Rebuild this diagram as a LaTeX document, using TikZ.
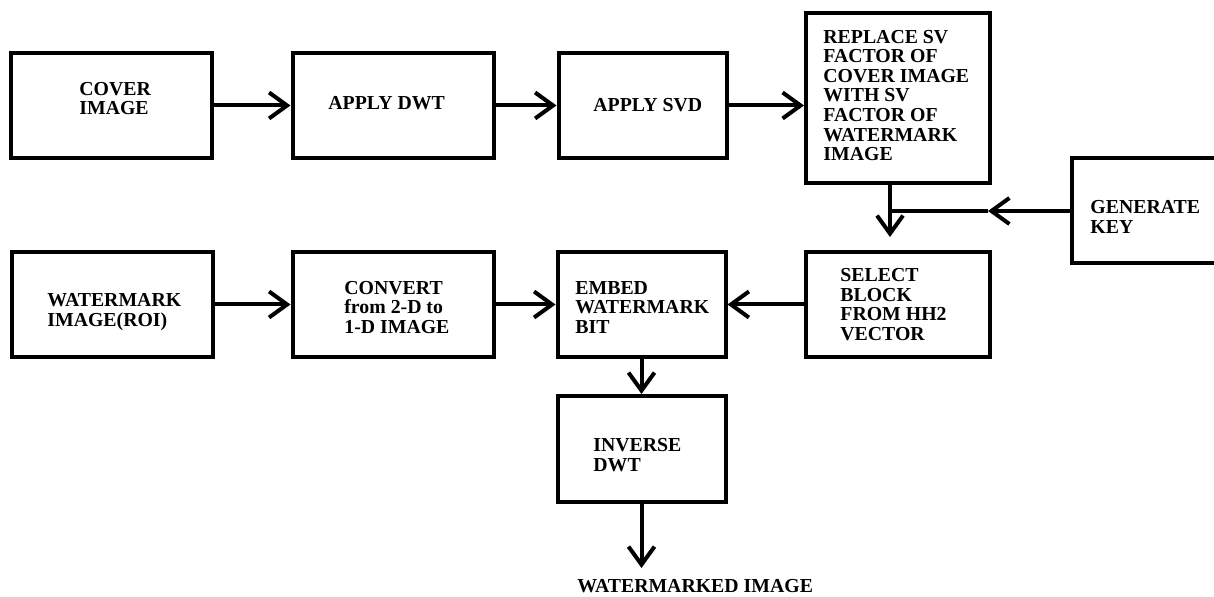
\documentclass[tikz,border=0pt]{standalone}
\usepackage{fontspec}
\setmainfont{Liberation Serif}
\usepackage{tikz}
\usetikzlibrary{arrows.meta}
\tikzset{
  blk/.style={draw=black, line width=2pt, inner sep=0pt, minimum height=52.5pt},
  boxw/.style={blk, minimum width=100.5pt},
  boxn/.style={blk, minimum width=84pt},
  boxt/.style={blk, minimum width=92pt, minimum height=85pt},
  boxs/.style={blk, minimum width=92pt},
  boxk/.style={blk, minimum width=74pt},
  txt/.style={font=\fontsize{9.9}{9.8}\selectfont\bfseries, align=left, inner sep=0pt, anchor=west},
  arr/.style={draw=black, line width=2pt, -{Straight Barb[length=9pt,width=13pt]}},
  ln/.style={draw=black, line width=2pt},
}

\begin{document}
\begin{tikzpicture}[x=0.5pt,y=-0.5pt]
  \useasboundingbox (0,0) rectangle (1214,597);

  % upper row
  \node[boxw] (cover)   at (111.5,105.5) {};
  \node[boxw] (dwt)     at (393,105.5) {};
  \node[boxn] (svd)     at (642.5,105.5) {};
  \node[boxt] (replace) at (898,98) {};
  \node[boxk] (key)     at (1146,210.5) {};

  % lower row
  \node[boxw] (wm)     at (112,304.5) {};
  \node[boxw] (conv)   at (393,304.5) {};
  \node[boxn] (embed)  at (641.5,304.5) {};
  \node[boxs] (select) at (898,304.5) {};
  \node[boxn, minimum height=53pt] (inv) at (641.5,449) {};

  \node[txt] (coverT)   at (79,98.5)  {COVER\\IMAGE};
  \node[txt] (dwtT)     at (328,103)  {APPLY DWT};
  \node[txt] (svdT)     at (593,105)  {APPLY SVD};
  \node[txt] (replaceT) at (823,95.5) {REPLACE SV\\FACTOR OF\\COVER IMAGE\\WITH SV\\FACTOR OF\\WATERMARK\\IMAGE};
  \node[txt] (keyT)     at (1090,217) {GENERATE\\KEY};
  \node[txt] (wmT)      at (47,312)   {WATERMARK\\IMAGE(ROI)};
  \node[txt] (convT)    at (344,307.5) {CONVERT\\from 2-D to\\1-D IMAGE};
  \node[txt] (embedT)   at (575,307.5) {EMBED\\WATERMARK\\BIT};
  \node[txt] (selectT)  at (840,304.5) {SELECT\\BLOCK\\FROM HH2\\VECTOR};
  \node[txt] (invT)     at (593,455)  {INVERSE\\DWT};
  \node[txt] (outT)     at (577,586)  {WATERMARKED IMAGE};

  \foreach \a/\b in {cover/dwt,dwt/svd,svd/replace,wm/conv,conv/embed}{
    \draw[arr] (\a.east) -- (\b.west |- \a.east);
  }
  \draw[arr] (select.west) -- (embed.east |- select.west);

  % key joins the line below the replace box
  \coordinate (jn)     at (890,211);
  \coordinate (keymid) at (988,211);
  \coordinate (seltip) at (890,237);
  \coordinate (outtip) at (641.5,568);
  \draw[arr] (replace.south -| jn) -- (seltip);
  \draw[arr] (key.west |- jn) -- (keymid);
  \draw[ln] (keymid) -- (jn);

  \draw[arr] (embed) -- (inv);
  \draw[arr] (inv) -- (outtip);
\end{tikzpicture}
\end{document}
